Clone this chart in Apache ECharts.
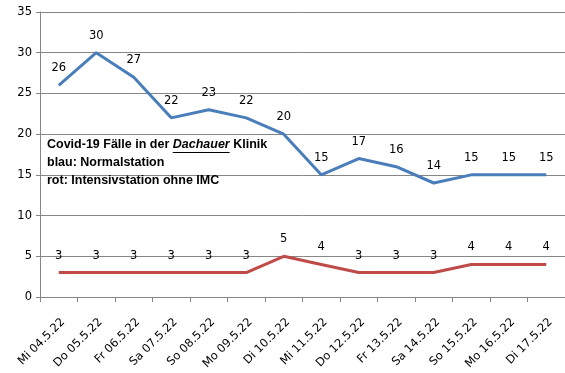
<!DOCTYPE html>
<html><head><meta charset="utf-8">
<script src="https://cdn.jsdelivr.net/npm/echarts@6/dist/echarts.min.js"></script>
<style>html,body{margin:0;padding:0;background:#fff}#c{width:565px;height:373px}</style>
</head><body><div id="c"></div>
<script>
const categories = ['Mi 04.5.22','Do 05.5.22','Fr 06.5.22','Sa 07.5.22','So 08.5.22','Mo 09.5.22','Di 10.5.22','Mi 11.5.22','Do 12.5.22','Fr 13.5.22','Sa 14.5.22','So 15.5.22','Mo 16.5.22','Di 17.5.22'];
const normalstation = [26,30,27,22,23,22,20,15,17,16,14,15,15,15];
const intensivstation = [3,3,3,3,3,3,5,4,3,3,3,4,4,4];
const yTicks = {min:0, max:35, interval:5};

const chart = echarts.init(document.getElementById('c'));
const ff = 'DejaVu Sans';
const tf = 'bold 12.5px "Liberation Sans"';
const ctx = document.createElement('canvas').getContext('2d');
ctx.font = tf;
const w1 = ctx.measureText('Covid-19 Fälle in der ').width;
ctx.font = 'italic ' + tf;
const w2 = ctx.measureText('Dachauer').width;
const tx = 47, ty = 146;
const lbl = {show:true, position:'top', distance:11, fontFamily:ff, fontSize:11.5, color:'#000'};
chart.setOption({
  animation:false,
  grid:{left:40, top:12, right:0, bottom:76, containLabel:false, outerBoundsMode:'none'},
  xAxis:{type:'category', data:categories, boundaryGap:true,
    axisLine:{lineStyle:{color:'#868686'}},
    axisTick:{show:true, length:5, lineStyle:{color:'#868686'}},
    axisLabel:{rotate:45, fontFamily:ff, fontSize:11.5, color:'#000', margin:19, interval:0, verticalAlign:'top', lineHeight:12}},
  yAxis:{type:'value', min:yTicks.min, max:yTicks.max, interval:yTicks.interval,
    axisLine:{show:true, lineStyle:{color:'#868686'}},
    axisTick:{show:true, length:4, lineStyle:{color:'#868686'}},
    splitLine:{lineStyle:{color:'#868686'}},
    axisLabel:{fontFamily:ff, fontSize:11.5, color:'#000', margin:8}},
  series:[
    {type:'line', data:normalstation, symbol:'circle', symbolSize:0.01, showSymbol:true, lineStyle:{color:'#4A7EBB', width:3}, itemStyle:{color:'#4A7EBB'}, label:lbl},
    {type:'line', data:intensivstation, symbol:'circle', symbolSize:0.01, showSymbol:true, lineStyle:{color:'#BE4B48', width:3}, itemStyle:{color:'#BE4B48'}, label:lbl}
  ],
  graphic:[
    {type:'text', left:tx, top:ty-8, z:100, style:{text:'{n|Covid-19 Fälle in der }{i|Dachauer}{n| Klinik}\n{n|blau: Normalstation}\n{n|rot: Intensivstation ohne IMC}',
      rich:{n:{font:tf, fill:'#000', lineHeight:18}, i:{font:'italic '+tf, fill:'#000', lineHeight:18}}, fill:'#000'}},
    {type:'line', z:100, shape:{x1:tx+w1, y1:ty+6.5, x2:tx+w1+w2, y2:ty+6.5}, style:{stroke:'#000', lineWidth:1}}
  ]
});
</script></body></html>
